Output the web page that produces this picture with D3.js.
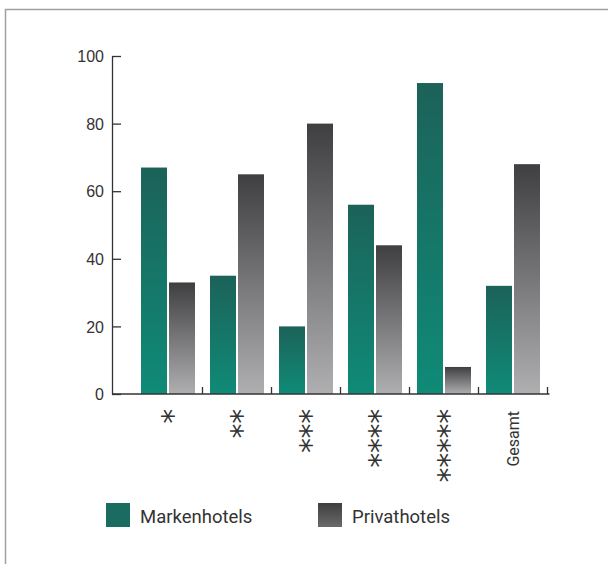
<!DOCTYPE html>
<html>
<head>
<meta charset="utf-8">
<script src="https://cdn.jsdelivr.net/npm/d3@7"></script>
<style>
  body { margin: 0; background: #fff; }
  svg { display: block; font-family: Roboto, "Liberation Sans", sans-serif; }
</style>
</head>
<body>
<svg width="608" height="564"></svg>
<script>
let categories = ["*", "**", "***", "****", "*****", "Gesamt"];
let series = ["Markenhotels", "Privathotels"];
let markenValues = [67, 35, 20, 56, 92, 32];
let privatValues = [33, 65, 80, 44, 8, 68];
let yTicks = [0, 20, 40, 60, 80, 100];

let data = categories.map((c, i) => ({cat: c, values: [markenValues[i], privatValues[i]]}));

let svg = d3.select("svg");

// frame
svg.append("path")
    .attr("d", "M5.5,564V9.5H608")
    .attr("fill", "none")
    .attr("stroke", "#a0a0a0")
    .attr("stroke-width", 1.5);

let defs = svg.append("defs");
let grad = (id, top, bottom) => {
    let g = defs.append("linearGradient").attr("id", id)
        .attr("x1", 0).attr("y1", 0).attr("x2", 0).attr("y2", 1);
    g.append("stop").attr("offset", 0).attr("stop-color", top);
    g.append("stop").attr("offset", 1).attr("stop-color", bottom);
};
grad("g0", "#1c6259", "#0f8b77");
grad("g1", "#3f3f41", "#afafb2");
grad("lg1", "#3e3e3e", "#6a6a6a");

let y = d3.scaleLinear([0, 100], [394, 56]);
let x = d3.scaleBand(categories, [133.5, 547.5]);
let x1 = d3.scaleBand(series, [7.5, 61.5]).paddingInner(2 / 28);

// bars
svg.append("g")
    .selectAll("g")
    .data(data)
    .join("g")
    .attr("transform", d => `translate(${x(d.cat)},0)`)
    .selectAll("rect")
    .data(d => d.values.map((v, i) => ({key: series[i], i, v})))
    .join("rect")
    .attr("x", d => x1(d.key))
    .attr("y", d => y(d.v))
    .attr("width", x1.bandwidth())
    .attr("height", d => y(0) - y(d.v))
    .attr("fill", d => `url(#g${d.i})`);

// y axis
let yAxis = svg.append("g")
    .attr("transform", `translate(112,0)`)
    .call(d3.axisRight(y).tickValues(yTicks).tickSize(9).tickSizeOuter(0).tickFormat(d => ""));
yAxis.select(".domain").attr("stroke", "#333").attr("stroke-width", 1.3);
yAxis.selectAll(".tick line").attr("stroke", "#333").attr("stroke-width", 1.3);
yAxis.selectAll(".tick").append("text")
    .attr("x", -8)
    .attr("dy", "0.36em")
    .attr("text-anchor", "end")
    .attr("fill", "#333")
    .attr("font-size", 16)
    .text(d => d);

// x axis
svg.append("line")
    .attr("x1", 112).attr("x2", x.range()[1] + 2)
    .attr("y1", y(0)).attr("y2", y(0))
    .attr("stroke", "#333").attr("stroke-width", 1.3);
svg.append("g")
    .selectAll("line")
    .data(categories)
    .join("line")
    .attr("x1", d => x(d) + x.bandwidth())
    .attr("x2", d => x(d) + x.bandwidth())
    .attr("y1", y(0)).attr("y2", y(0) - 7)
    .attr("stroke", "#333").attr("stroke-width", 1.3);

let isStars = d => d !== "Gesamt";
svg.append("g")
    .selectAll("text")
    .data(categories)
    .join("text")
    .attr("transform", d => `translate(${x(d) + x.bandwidth() / 2},${y(0) + (isStars(d) ? 15 : 17)}) rotate(-90)`)
    .attr("text-anchor", "end")
    .attr("font-family", d => isStars(d) ? "'DejaVu Sans', sans-serif" : null)
    .attr("letter-spacing", d => isStars(d) ? -0.3 : null)
    .attr("dy", d => isStars(d) ? "0.5em" : "0.35em")
    .attr("font-size", d => isStars(d) ? 30 : 16)
    .attr("fill", "#333")
    .text(d => d);

// legend
let legend = svg.append("g")
    .selectAll("g")
    .data(series)
    .join("g")
    .attr("transform", (d, i) => `translate(${[106, 318][i]},503)`);
legend.append("rect")
    .attr("width", 24).attr("height", 24)
    .attr("fill", (d, i) => i === 0 ? "#1a6b60" : "url(#lg1)");
legend.append("text")
    .attr("x", 34).attr("y", 20)
    .attr("font-size", 18.5)
    .attr("fill", "#333")
    .text(d => d);
</script>
</body>
</html>
